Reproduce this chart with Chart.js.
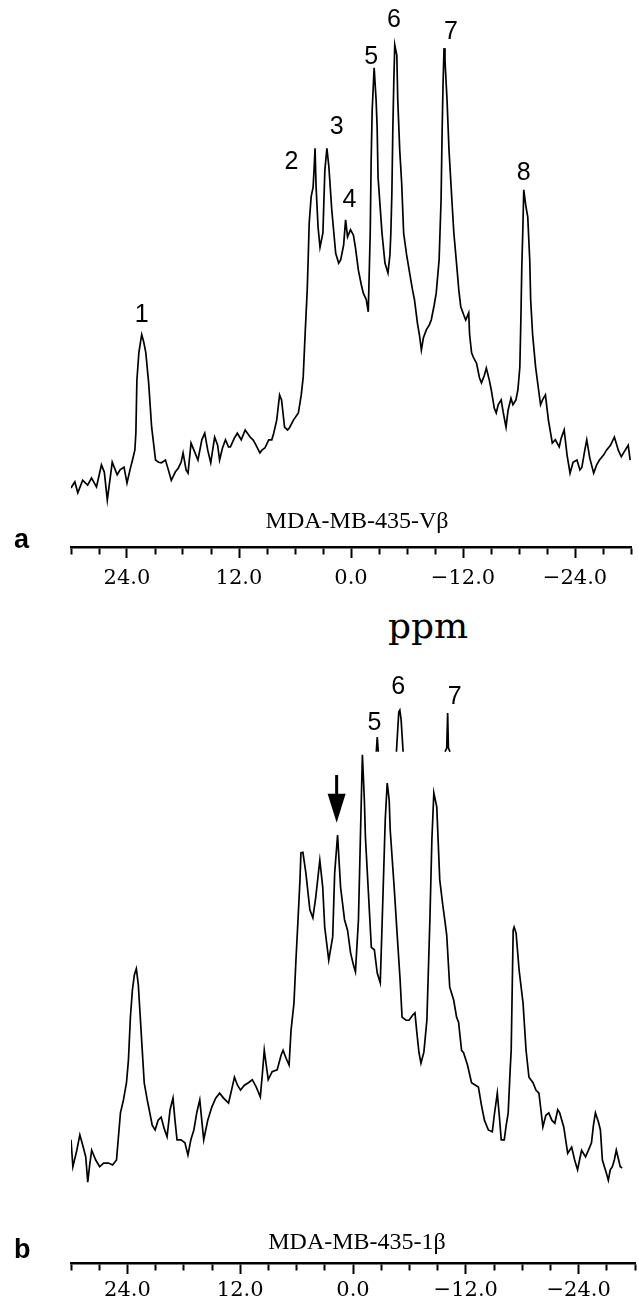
<!DOCTYPE html>
<html>
<head>
<meta charset="utf-8">
<script src="https://cdn.jsdelivr.net/npm/chart.js@4.4.0/dist/chart.umd.min.js"></script>
<style>
  body { margin: 0; background: #fff; width: 639px; height: 1303px; position: relative; overflow: hidden; }
  .box { position: absolute; left: 0; width: 639px; }
  #boxA { top: 0; height: 600px; }
  #boxB { top: 650px; height: 653px; }
  .txt { position: absolute; white-space: nowrap; color: #000; line-height: 1; }
  .panel { font-family: 'Liberation Sans', Arial, sans-serif; font-weight: bold; font-size: 27px; }
  .name { font-family: 'Liberation Serif', 'Times New Roman', serif; font-size: 24px; transform: translateX(-50%); }
  .unit { font-family: 'DejaVu Serif', serif; font-size: 36px; transform: translateX(-50%); }
</style>
</head>
<body>
<div class="box" id="boxA"><canvas id="chartA"></canvas></div>
<div class="box" id="boxB"><canvas id="chartB"></canvas></div>
<div class="txt panel" style="left:14px; top:526px;">a</div>
<div class="txt name" style="left:357px; top:508px;">MDA-MB-435-Vβ</div>
<div class="txt unit" style="left:428px; top:608px;">ppm</div>
<div class="txt panel" style="left:14px; top:1236px;">b</div>
<div class="txt name" style="left:357px; top:1229px;">MDA-MB-435-1β</div>

<script>
// chemical shift axis (ppm), shared by both spectra
const xMin = -30, xMax = 30;
const tickValues = [30, 27, 24, 21, 18, 15, 12, 9, 6, 3, 0, -3, -6, -9, -12, -15, -18, -21, -24, -27, -30];
const majorTicks = [24, 12, 0, -12, -24];

// spectrum a : MDA-MB-435-Vbeta
const ppmA = [30.0, 29.59, 29.27, 28.75, 28.22, 27.80, 27.27, 26.74, 26.43, 26.11, 25.58, 25.05, 24.74, 24.32, 24.00, 23.68, 23.47, 23.16, 23.05, 22.94,
  22.73, 22.52, 22.42, 22.21, 21.99, 21.68, 21.36, 20.94, 20.62, 20.31, 19.88, 19.57, 19.25, 18.83, 18.51, 18.20, 17.99, 17.67, 17.46, 17.14,
  16.83, 16.40, 15.98, 15.67, 15.35, 15.03, 14.61, 14.29, 14.08, 13.77, 13.45, 13.13, 12.92, 12.50, 12.18, 11.76, 11.34, 10.81, 10.50, 10.29,
  9.76, 9.55, 9.23, 8.81, 8.49, 8.28, 7.96, 7.65, 7.44, 7.12, 6.80, 6.59, 6.17, 5.64, 5.33, 5.12, 4.91, 4.69, 4.59, 4.48,
  4.27, 4.06, 3.96, 3.85, 3.74, 3.53, 3.32, 3.01, 2.80, 2.58, 2.37, 2.06, 1.64, 1.32, 1.11, 0.79, 0.58, 0.37, 0.05, -0.26,
  -0.47, -0.79, -1.11, -1.32, -1.64, -1.85, -2.06, -2.16, -2.27, -2.48, -2.69, -2.80, -2.90, -3.11, -3.32, -3.64, -3.96, -4.17, -4.27, -4.38,
  -4.48, -4.59, -4.69, -4.91, -5.01, -5.22, -5.43, -5.64, -5.96, -6.28, -6.59, -6.80, -7.12, -7.33, -7.54, -7.75, -8.07, -8.39, -8.60, -8.91,
  -9.13, -9.44, -9.65, -9.76, -9.86, -9.97, -10.07, -10.29, -10.50, -10.81, -11.02, -11.34, -11.55, -11.76, -12.08, -12.29, -12.61, -12.71, -12.92, -13.13,
  -13.45, -13.77, -13.98, -14.29, -14.50, -14.82, -15.03, -15.35, -15.56, -15.77, -16.09, -16.30, -16.61, -16.83, -17.14, -17.35, -17.67, -17.88, -18.09, -18.20,
  -18.30, -18.41, -18.51, -18.72, -18.94, -19.15, -19.25, -19.46, -19.78, -20.10, -20.31, -20.52, -20.83, -21.15, -21.57, -21.89, -22.31, -22.52, -22.84, -23.15,
  -23.47, -23.79, -24.21, -24.53, -24.74, -25.05, -25.26, -25.58, -26.00, -26.32, -26.62, -27.06, -27.37, -27.80, -28.22, -28.64, -28.96, -29.38, -29.70, -29.91];
const intA = [10.8, 11.9, 9.9, 12.2, 11.3, 12.6, 11.0, 15.0, 13.7, 8.6, 15.5, 13.2, 14.1, 14.6, 11.7, 14.1, 15.5, 17.7, 20.8, 30.5,
  35.5, 37.8, 38.8, 37.5, 35.6, 30.0, 21.9, 15.9, 15.5, 15.4, 15.9, 14.1, 12.2, 13.7, 14.4, 15.5, 17.2, 14.1, 13.5, 19.0,
  17.7, 15.9, 19.6, 20.8, 17.7, 15.4, 20.1, 18.6, 15.9, 18.1, 19.6, 18.3, 18.3, 19.9, 20.8, 19.6, 21.4, 20.1, 19.6, 19.0,
  17.2, 17.7, 18.1, 19.6, 19.6, 20.8, 23.2, 27.8, 26.9, 21.9, 21.4, 21.8, 23.2, 24.5, 27.8, 31.1, 39.1, 47.0, 52.5, 59.2,
  64.0, 65.8, 68.9, 72.9, 65.8, 58.5, 54.8, 57.4, 68.9, 72.9, 69.5, 61.6, 53.7, 51.9, 52.5, 55.2, 59.8, 56.7, 58.0, 57.0,
  54.8, 50.6, 47.9, 46.4, 45.2, 43.0, 57.4, 70.7, 79.9, 87.6, 81.7, 76.8, 67.6, 62.5, 57.4, 51.9, 50.1, 53.4, 57.4, 64.7,
  76.2, 85.4, 91.8, 89.9, 81.7, 72.6, 66.5, 57.4, 53.4, 50.1, 47.0, 45.2, 40.9, 38.8, 36.0, 38.2, 39.7, 40.6, 41.5, 44.2,
  46.4, 52.5, 63.4, 75.7, 84.5, 91.2, 89.0, 81.7, 72.6, 63.4, 57.4, 51.2, 47.0, 43.9, 42.4, 41.5, 42.8, 38.8, 35.5, 34.6,
  33.6, 30.9, 30.0, 31.4, 32.7, 30.5, 28.7, 25.4, 24.5, 26.0, 26.9, 24.7, 21.9, 25.0, 27.2, 26.0, 26.9, 28.7, 32.9, 41.5,
  51.2, 58.0, 65.3, 62.5, 60.3, 52.5, 45.2, 38.8, 32.9, 28.7, 26.0, 26.9, 27.8, 23.2, 19.0, 19.6, 18.3, 19.9, 21.4, 16.8,
  13.5, 15.5, 15.9, 14.1, 14.6, 17.7, 19.6, 16.3, 13.5, 15.0, 15.9, 16.8, 17.7, 18.6, 20.1, 17.7, 16.5, 17.7, 18.6, 15.9];
const peakNamesA = ['1', '2', '3', '4', '5', '6', '7', '8'];
const peakPpmA = [22.42, 6.38, 1.53, 0.16, -2.16, -4.59, -10.71, -18.51];
const peakIntA = [42.4, 70.4, 76.8, 63.4, 89.6, 96.3, 94.2, 68.4];

// spectrum b : MDA-MB-435-1beta
const ppmB = [30.0, 29.80, 29.38, 29.06, 28.75, 28.43, 28.22, 28.01, 27.80, 27.37, 26.95, 26.53, 26.00, 25.58, 25.16, 24.74, 24.42, 24.10, 23.89, 23.68,
  23.47, 23.26, 23.05, 22.84, 22.63, 22.42, 22.21, 21.89, 21.68, 21.36, 21.05, 20.73, 20.41, 20.10, 19.78, 19.46, 19.15, 18.94, 18.72, 18.30,
  17.88, 17.56, 17.25, 16.93, 16.61, 16.30, 16.09, 15.88, 15.45, 15.03, 14.61, 14.19, 13.77, 13.24, 12.92, 12.61, 12.29, 11.97, 11.55, 11.13,
  10.71, 10.29, 9.86, 9.65, 9.44, 9.23, 9.02, 8.60, 8.07, 7.65, 7.44, 7.12, 6.80, 6.59, 6.28, 6.07, 5.85, 5.64, 5.54, 5.33,
  5.01, 4.59, 4.27, 3.96, 3.53, 3.22, 3.01, 2.58, 2.16, 1.95, 1.64, 1.32, 0.90, 0.58, 0.26, -0.05, -0.26, -0.58, -0.79, -1.00,
  -1.21, -1.32, -1.64, -1.95, -2.27, -2.58, -2.90, -3.11, -3.43, -3.64, -3.85, -3.96, -4.38, -4.69, -5.01, -5.22, -5.64, -5.96, -6.38, -6.59,
  -6.80, -7.02, -7.23, -7.54, -7.86, -8.18, -8.39, -8.60, -8.91, -9.23, -9.55, -9.76, -9.97, -10.29, -10.71, -11.02, -11.23, -11.55, -11.76, -12.18,
  -12.61, -13.03, -13.34, -13.66, -13.98, -14.40, -14.82, -15.03, -15.35, -15.56, -15.77, -16.09, -16.30, -16.51, -16.72, -16.83, -17.04, -17.14, -17.35, -17.67,
  -18.09, -18.41, -18.72, -19.15, -19.46, -19.78, -19.99, -20.20, -20.52, -20.83, -21.15, -21.47, -21.78, -21.99, -22.21, -22.42, -22.84, -23.26, -23.58, -23.89,
  -24.10, -24.32, -24.74, -25.05, -25.37, -25.58, -25.79, -26.11, -26.32, -26.53, -26.95, -27.16, -27.37, -27.59, -27.80, -28.01, -28.22, -28.43, -28.64];
const intB = [20.1, 15.7, 18.4, 20.9, 19.2, 17.3, 13.2, 16.0, 18.4, 16.8, 15.7, 16.3, 16.3, 16.0, 16.8, 24.5, 26.6, 29.4, 33.1, 40.1,
  44.5, 47.0, 48.0, 45.4, 40.1, 34.7, 29.4, 26.6, 25.0, 22.5, 21.7, 23.3, 23.8, 22.0, 20.6, 25.0, 26.9, 23.3, 20.1, 20.1,
  19.6, 17.6, 20.1, 21.7, 24.6, 26.6, 23.3, 20.1, 23.3, 25.4, 26.9, 27.7, 26.9, 26.1, 28.2, 30.3, 29.0, 28.2, 29.0, 29.4,
  29.9, 28.7, 27.1, 30.7, 34.7, 32.3, 29.9, 31.2, 31.5, 33.9, 34.7, 33.4, 32.3, 38.0, 42.4, 49.4, 56.0, 62.5, 66.9, 67.0,
  63.6, 57.6, 56.3, 59.7, 65.7, 61.3, 54.8, 49.4, 53.2, 63.6, 69.8, 61.3, 56.0, 54.3, 50.6, 48.6, 47.5, 56.0, 69.5, 82.9,
  75.5, 69.5, 60.4, 51.5, 51.1, 47.3, 45.7, 56.0, 72.3, 78.3, 75.5, 70.6, 61.3, 53.8, 46.2, 40.1, 39.6, 39.6, 40.5, 40.8,
  37.5, 34.3, 32.6, 34.4, 39.6, 56.0, 69.0, 76.7, 74.4, 62.5, 58.4, 56.0, 53.5, 45.0, 42.9, 40.1, 39.3, 34.7, 34.3, 32.3,
  29.4, 29.0, 28.7, 25.8, 23.3, 21.7, 21.4, 24.1, 27.7, 24.1, 20.1, 20.1, 22.5, 24.5, 31.5, 34.7, 54.3, 54.8, 53.8, 47.8,
  42.4, 34.7, 30.3, 29.4, 28.2, 27.7, 25.0, 22.2, 24.1, 24.5, 23.3, 22.8, 25.0, 24.5, 23.3, 22.2, 17.9, 18.9, 16.8, 15.2,
  16.8, 18.4, 17.3, 18.4, 19.6, 22.5, 24.5, 23.0, 21.7, 16.8, 14.7, 13.5, 15.2, 15.7, 16.8, 18.4, 17.1, 15.7, 15.5];
// clipped peak tips drawn above spectrum b (null separates the pieces)
const tipPpmB = [-2.48, -2.58, -2.69, -3.5, -4.62, -4.87, -4.98, -5.12, -5.33, -7.5, -9.79, -9.97, -10.07, -10.15, -10.32];
const tipIntB = [83.4, 85.8, 83.4, null, 83.4, 89.9, 90.2, 88.6, 83.4, null, 83.4, 84.0, 89.7, 84.0, 83.4];
const peakNamesB = ['5', '6', '7'];
const peakPpmB = [-2.27, -4.80, -10.82];
const peakIntB = [88.1, 94.0, 92.3];
// arrow marking the extra resonance in b
const arrowPpmB = 1.74, arrowTopB = 79.6, arrowTipB = 71.8;

function pts(xs, ys) {
  return xs.map((v, i) => ({ x: v, y: ys[i] }));
}

function fmtTick(v) {
  if (!majorTicks.includes(v)) return '';
  return (v < 0 ? '\u2212' : '') + Math.abs(v).toFixed(1);
}

const peakLabels = {
  id: 'peakLabels',
  afterDatasetsDraw(chart, args, opts) {
    const { ctx, scales: { x, y } } = chart;
    ctx.save();
    ctx.fillStyle = '#000';
    ctx.font = '25px "Liberation Sans", Arial, sans-serif';
    ctx.textAlign = 'center';
    ctx.textBaseline = 'middle';
    opts.names.forEach((n, i) => {
      ctx.fillText(n, x.getPixelForValue(opts.ppm[i]), y.getPixelForValue(opts.int[i]));
    });
    if (opts.arrow) {
      const ax = x.getPixelForValue(opts.arrow.ppm);
      const top = y.getPixelForValue(opts.arrow.top);
      const tip = y.getPixelForValue(opts.arrow.tip);
      ctx.strokeStyle = '#000';
      ctx.lineWidth = 3;
      ctx.beginPath();
      ctx.moveTo(ax, top);
      ctx.lineTo(ax, tip - 20);
      ctx.stroke();
      ctx.beginPath();
      ctx.moveTo(ax - 9, tip - 29);
      ctx.lineTo(ax + 9, tip - 29);
      ctx.lineTo(ax, tip);
      ctx.closePath();
      ctx.fill();
    }
    ctx.restore();
  }
};

function makeChart(id, datasets, axisHeight, tickPad, labelOpts) {
  return new Chart(document.getElementById(id), {
    type: 'line',
    data: { datasets: datasets },
    options: {
      responsive: true,
      maintainAspectRatio: false,
      animation: false,
      layout: { padding: { left: 71, right: 0, top: 0, bottom: 0 } },
      plugins: { legend: { display: false }, tooltip: { enabled: false }, peakLabels: labelOpts },
      elements: { point: { radius: 0 }, line: { tension: 0 } },
      scales: {
        x: {
          type: 'linear', min: xMin, max: xMax, reverse: true,
          afterBuildTicks: s => { s.ticks = tickValues.map(v => ({ value: v })); },
          afterFit: s => { s.height = axisHeight; },
          border: { display: true, color: '#000', width: 2.5 },
          grid: {
            display: true, drawOnChartArea: false, drawTicks: true, tickLength: 11,
            tickColor: '#000', tickWidth: 2,
            tickBorderDash: c => (c.tick && majorTicks.includes(c.tick.value)) ? [] : [6, 30]
          },
          ticks: {
            autoSkip: false, maxRotation: 0, padding: tickPad, color: '#000',
            font: { family: '"DejaVu Serif", serif', size: 21 },
            callback: v => fmtTick(v)
          }
        },
        y: { min: 0, max: 100, display: false }
      }
    },
    plugins: [peakLabels]
  });
}

const lineStyle = { borderColor: '#000', borderWidth: 1.7, fill: false, pointRadius: 0 };

makeChart('chartA', [
  Object.assign({ data: pts(ppmA, intA) }, lineStyle)
], 53, 8, { names: peakNamesA, ppm: peakPpmA, int: peakIntA });

makeChart('chartB', [
  Object.assign({ data: pts(ppmB, intB) }, lineStyle),
  Object.assign({ data: pts(tipPpmB, tipIntB), spanGaps: false }, lineStyle)
], 40, 4, { names: peakNamesB, ppm: peakPpmB, int: peakIntB,
  arrow: { ppm: arrowPpmB, top: arrowTopB, tip: arrowTipB } });
</script>
</body>
</html>
